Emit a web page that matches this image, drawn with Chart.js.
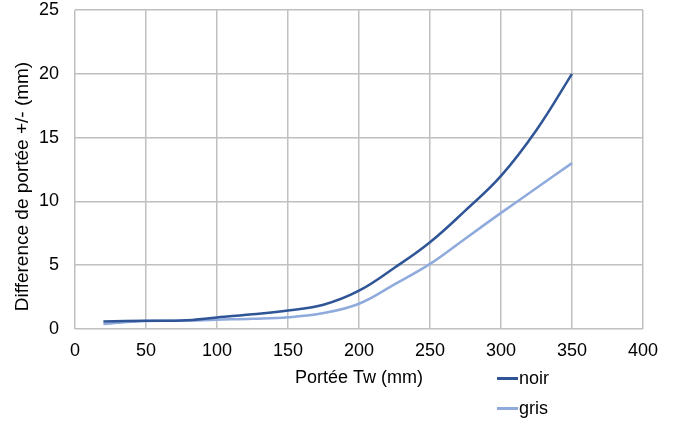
<!DOCTYPE html>
<html>
<head>
<meta charset="utf-8">
<script src="https://cdn.jsdelivr.net/npm/chart.js@4/dist/chart.umd.min.js"></script>
<style>
    html, body { margin: 0; padding: 0; background: #fff; }
    #wrap { position: relative; width: 679px; height: 421px; }
    #legend { position: absolute; left: 497px; top: 363px; font: 18px "Liberation Sans", Arial, sans-serif; color: #000; }
    #legend div { display: flex; align-items: center; height: 30px; }
    #legend span.swatch { display: inline-block; width: 21px; height: 3px; margin-right: 1px; }
</style>
</head>
<body>
<div id="wrap">
    <canvas id="chart" width="679" height="421"></canvas>
    <div id="legend"></div>
</div>
<script>
const spans = [20, 50, 75, 100, 125, 150, 175, 200, 225, 250, 275, 300, 325, 350];
const noir = [0.58, 0.65, 0.67, 0.9, 1.15, 1.45, 1.9, 3.0, 4.8, 6.8, 9.3, 12.0, 15.6, 20];
const gris = [0.4, 0.62, 0.65, 0.73, 0.8, 0.92, 1.25, 1.98, 3.5, 5.1, 7.1, 9.1, 11.05, 13.0];
const xTicks = [0, 50, 100, 150, 200, 250, 300, 350, 400];
const yTicks = [0, 5, 10, 15, 20, 25];
const yTitle = 'Difference de portée +/- (mm)';

const toPoints = (ys) => spans.map((x, i) => ({ x: x, y: ys[i] }));

const fontFamily = '"Liberation Sans", Arial, sans-serif';
const font = { family: fontFamily, size: 18 };
const gridColor = '#c0c0c0';

const datasets = [
    { label: 'noir', data: toPoints(noir), borderColor: '#2f5597' },
    { label: 'gris', data: toPoints(gris), borderColor: '#8faadc' },
].map(d => Object.assign(d, {
    borderWidth: 2.5,
    pointRadius: 0,
    tension: 0.4,
    fill: false,
}));

// keep the plot area where the reference has it
const noScalePadding = (s) => {
    s.paddingTop = 0;
    s.paddingBottom = 0;
    s.paddingLeft = 0;
    s.paddingRight = 0;
};

// the y title sits a bit below the middle of the axis in the reference
const yTitlePlugin = {
    id: 'yTitle',
    afterDraw(chart) {
        const ctx = chart.ctx;
        const area = chart.chartArea;
        ctx.save();
        ctx.translate(23, (area.top + area.bottom) / 2 + 17);
        ctx.rotate(-Math.PI / 2);
        ctx.font = '19px ' + fontFamily;
        ctx.fillStyle = '#000';
        ctx.textAlign = 'center';
        ctx.textBaseline = 'middle';
        ctx.fillText(yTitle, 0, 0);
        ctx.restore();
    },
};

const chart = new Chart(document.getElementById('chart'), {
    type: 'line',
    data: { datasets: datasets },
    plugins: [yTitlePlugin],
    options: {
        responsive: false,
        animation: false,
        layout: { padding: { left: 0, right: 36, top: 10, bottom: 28 } },
        plugins: { legend: { display: false }, tooltip: { enabled: false } },
        scales: {
            x: {
                type: 'linear',
                min: xTicks[0],
                max: xTicks[xTicks.length - 1],
                afterBuildTicks: (s) => { s.ticks = xTicks.map(v => ({ value: v })); },
                afterFit: (s) => { s.height = 64; noScalePadding(s); },
                ticks: { color: '#000', font: font, padding: 11, maxRotation: 0 },
                grid: { color: gridColor, lineWidth: 1.5, drawTicks: false },
                border: { display: false },
                title: { display: true, text: 'Portée Tw (mm)', color: '#000', font: font },
            },
            y: {
                min: yTicks[0],
                max: yTicks[yTicks.length - 1],
                afterBuildTicks: (s) => { s.ticks = yTicks.map(v => ({ value: v })); },
                afterFit: (s) => { s.width = 75; noScalePadding(s); },
                ticks: { color: '#000', font: font, padding: 16 },
                grid: { color: gridColor, lineWidth: 1.5, drawTicks: false },
                border: { display: false },
            },
        },
    },
});

const legend = document.getElementById('legend');
chart.data.datasets.forEach(ds => {
    const row = document.createElement('div');
    const sw = document.createElement('span');
    sw.className = 'swatch';
    sw.style.background = ds.borderColor;
    row.appendChild(sw);
    row.appendChild(document.createTextNode(ds.label));
    legend.appendChild(row);
});
</script>
</body>
</html>
